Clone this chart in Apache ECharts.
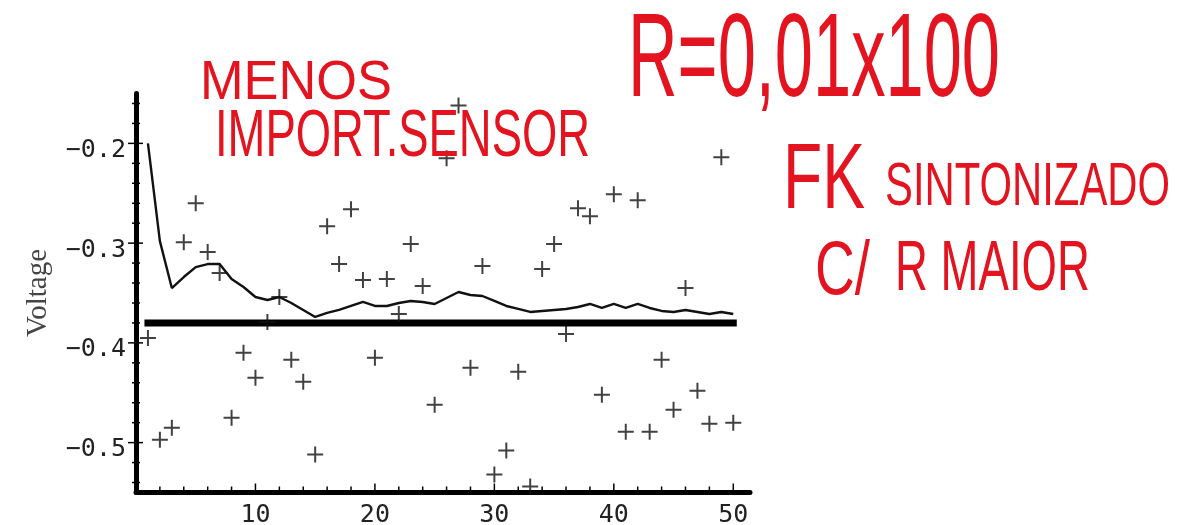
<!DOCTYPE html>
<html><head><meta charset="utf-8">
<script src="https://cdn.jsdelivr.net/npm/echarts@6/dist/echarts.min.js"></script>
<style>html,body{margin:0;padding:0;background:#fff}#c{width:1201px;height:525px}</style>
</head><body><div id="c"></div><script>
// ---- data ----
const xValues = [1,2,3,4,5,6,7,8,9,10,11,12,13,14,15,16,17,18,19,20,21,22,23,24,25,26,27,28,29,30,31,32,33,34,35,36,37,38,39,40,41,42,43,44,45,46,47,48,49,50];
const measurements = [-0.395,-0.497,-0.485,-0.299,-0.260,-0.309,-0.330,-0.475,-0.410,-0.435,
  -0.379,-0.354,-0.417,-0.439,-0.512,-0.283,-0.321,-0.266,-0.337,-0.415,
  -0.336,-0.371,-0.301,-0.343,-0.462,-0.215,-0.162,-0.425,-0.323,-0.532,
  -0.508,-0.429,-0.544,-0.326,-0.301,-0.391,-0.265,-0.273,-0.452,-0.251,
  -0.489,-0.257,-0.489,-0.417,-0.467,-0.345,-0.448,-0.481,-0.214,-0.480];
const estimate = [-0.200,-0.298,-0.345,-0.334,-0.324,-0.321,-0.321,-0.336,-0.344,-0.354,
  -0.357,-0.354,-0.360,-0.367,-0.374,-0.370,-0.367,-0.363,-0.359,-0.363,
  -0.363,-0.360,-0.358,-0.359,-0.361,-0.355,-0.349,-0.352,-0.353,-0.358,
  -0.363,-0.366,-0.369,-0.368,-0.367,-0.366,-0.364,-0.361,-0.365,-0.361,
  -0.365,-0.361,-0.365,-0.368,-0.369,-0.367,-0.369,-0.371,-0.369,-0.371];
const trueLevel = -0.38;
const trueSpan = [1, 50];
const yLabelValues = [-0.5, -0.4, -0.3, -0.2];
const yMinorTicks = [-0.54,-0.52,-0.48,-0.46,-0.44,-0.42,-0.38,-0.36,-0.34,-0.32,-0.28,-0.26,-0.24,-0.22,-0.18,-0.16];
const xLabelValues = [10, 20, 30, 40, 50];
const xMinorTicks = [2,4,6,8,12,14,16,18,22,24,26,28,32,34,36,38,42,44,46,48];
const yAxisTitle = 'Voltage';
const notes = ['MENOS', 'IMPORT.SENSOR', 'R=0,01x100', 'FK', 'SINTONIZADO', 'C/', 'R MAIOR'];

// ---- chart ----
const Y_MIN = -0.55, Y_MAX = -0.15;
const chart = echarts.init(document.getElementById('c'), null, {renderer: 'canvas'});

function tickSeries(values, onX, a, b) {
  const pts = values.map(v => onX ? [v, Y_MIN] : [0, v]);
  return {
    type: 'custom', data: pts, silent: true, z: 6, clip: false, encode: {x: 0, y: 1},
    renderItem: (params, api) => {
      const p = api.coord([api.value(0), api.value(1)]);
      const shape = onX ? {x1: p[0], y1: p[1] + a, x2: p[0], y2: p[1] + b}
                        : {x1: p[0] + a, y1: p[1], x2: p[0] + b, y2: p[1]};
      return {type: 'line', shape: shape, style: {stroke: '#000', lineWidth: 1.5}};
    }
  };
}

const measCanvas = document.createElement('canvas').getContext('2d');
const NOTE_FONT = 'Liberation Sans';
function note(text, left, width, centerY, capH) {
  const size = capH / 0.716;
  measCanvas.font = size + 'px "' + NOTE_FONT + '"';
  const w = measCanvas.measureText(text).width;
  return {
    type: 'text', x: left, y: centerY + 0.06 * size, scaleX: width / w, scaleY: 1, z: 50,
    style: {text: text, fontFamily: NOTE_FONT, fontSize: size, fill: '#e3141f',
            verticalAlign: 'middle', align: 'left'}
  };
}

const option = {
  animation: false,
  backgroundColor: '#fff',
  grid: {left: 136, right: 451, top: 93.5, bottom: 32.5, containLabel: false, outerBoundsMode: 'none'},
  xAxis: {
    type: 'value', min: 0, max: 51.4, interval: 10,
    axisLine: {show: true, lineStyle: {color: '#000', width: 5}},
    axisTick: {show: false}, splitLine: {show: false},
    axisLabel: {
      margin: 10, fontFamily: 'DejaVu Sans Mono', fontSize: 25, color: '#222',
      formatter: v => xLabelValues.indexOf(v) >= 0 ? String(v) : ''
    }
  },
  yAxis: {
    type: 'value', min: Y_MIN, max: Y_MAX, interval: 0.05,
    axisLine: {show: true, lineStyle: {color: '#000', width: 5}},
    axisTick: {show: false}, splitLine: {show: false},
    axisLabel: {
      margin: 10, fontFamily: 'DejaVu Sans Mono', fontSize: 25, color: '#222',
      verticalAlign: 'top', lineHeight: 14,
      formatter: v => {
        const hit = yLabelValues.find(t => Math.abs(t - v) < 1e-6);
        return hit === undefined ? '' : '\u2212' + Math.abs(hit).toFixed(1);
      }
    },
    name: yAxisTitle, nameLocation: 'middle', nameGap: 83, nameRotate: 90,
    nameTextStyle: {fontFamily: 'Liberation Serif', fontSize: 29, color: '#444'}
  },
  series: [
    {
      type: 'line', data: trueSpan.map(x => [x, trueLevel]), showSymbol: false, silent: true, z: 2,
      lineStyle: {color: '#000', width: 7, cap: 'square'}
    },
    {
      type: 'line', data: xValues.map((x, i) => [x, estimate[i]]), showSymbol: false, silent: true, z: 3,
      lineStyle: {color: '#111', width: 2.4}
    },
    {
      type: 'scatter', data: xValues.map((x, i) => [x, measurements[i]]), silent: true, z: 4,
      symbol: 'path://M7,0H9V7H16V9H9V16H7V9H0V7H7Z', symbolSize: 16,
      itemStyle: {color: '#111'}
    },
    tickSeries(yLabelValues, false, -8, 7),
    tickSeries(yMinorTicks, false, -4, 4),
    tickSeries(xLabelValues, true, -9, 0),
    tickSeries(xMinorTicks, true, -6, 0)
  ],
  graphic: [
    note(notes[0], 200, 192, 80, 40),
    note(notes[1], 215, 375, 133, 48),
    note(notes[2], 628, 372, 56, 85),
    note(notes[3], 783, 82, 177, 66),
    note(notes[4], 885, 285, 184, 44),
    note(notes[5], 815, 55, 268, 55),
    note(notes[6], 895, 195, 267, 50)
  ]
};
chart.setOption(option);
</script></body></html>
